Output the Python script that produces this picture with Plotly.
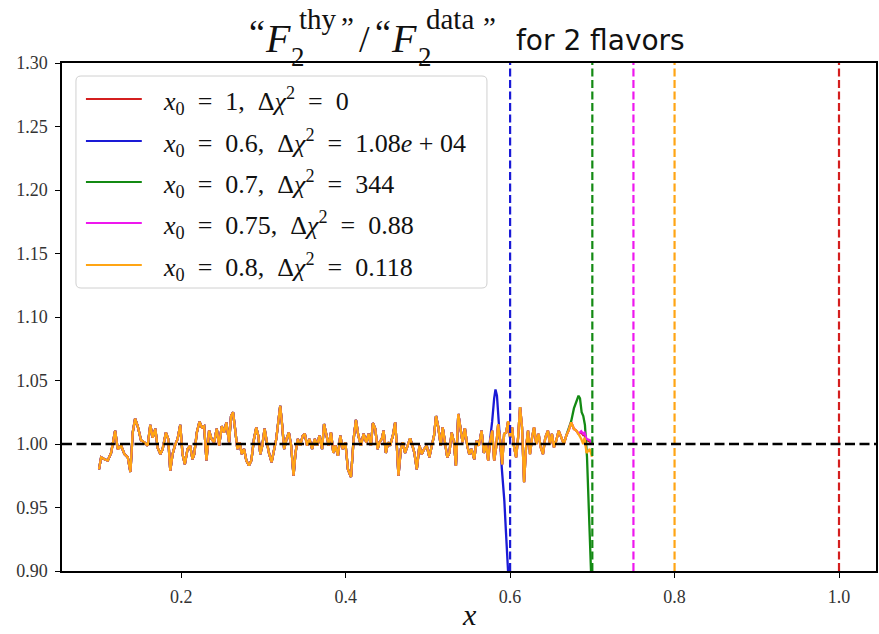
import plotly.graph_objects as go

# ---------------- data ----------------
X_BASE = [
    0.1000, 0.1026, 0.1067, 0.1107, 0.1147, 0.1196, 0.1228, 0.1269, 0.1309, 0.1350,
    0.1382, 0.1410, 0.1439, 0.1471, 0.1511, 0.1552, 0.1592, 0.1624, 0.1653, 0.1685,
    0.1713, 0.1746, 0.1774, 0.1814, 0.1842, 0.1867, 0.1895, 0.1923, 0.1956, 0.1988,
    0.2016, 0.2044, 0.2077, 0.2109, 0.2137, 0.2158, 0.2190, 0.2222, 0.2251, 0.2279,
    0.2307, 0.2339, 0.2368, 0.2400, 0.2432, 0.2461, 0.2493,
    0.2521, 0.2549, 0.2582, 0.2606, 0.2630, 0.2655, 0.2683, 0.2711, 0.2735, 0.2764,
    0.2792, 0.2824, 0.2853, 0.2885, 0.2913, 0.2937, 0.2962, 0.2986, 0.3014, 0.3042,
    0.3067, 0.3099, 0.3127, 0.3156, 0.3180, 0.3204, 0.3228, 0.3252, 0.3281, 0.3309,
    0.3337, 0.3366, 0.3390, 0.3418, 0.3446, 0.3479, 0.3503, 0.3531, 0.3560, 0.3592,
    0.3624, 0.3652, 0.3681, 0.3713, 0.3737, 0.3766, 0.3794, 0.3822, 0.3850, 0.3875,
    0.3907, 0.3935, 0.3964, 0.3996, 0.4028,
    0.4065, 0.4097, 0.4125, 0.4154, 0.4186, 0.4218, 0.4251, 0.4279, 0.4307, 0.4331,
    0.4360, 0.4388, 0.4412, 0.4440, 0.4461, 0.4489, 0.4517, 0.4541, 0.4574, 0.4602,
    0.4622, 0.4642, 0.4671, 0.4695, 0.4723, 0.4752, 0.4784, 0.4812, 0.4836, 0.4865,
    0.4897, 0.4925, 0.4954, 0.4986, 0.5018, 0.5047, 0.5075, 0.5099, 0.5127, 0.5156,
    0.5180, 0.5208, 0.5236, 0.5261, 0.5289, 0.5317, 0.5341, 0.5370, 0.5398, 0.5422,
    0.5450, 0.5479, 0.5503, 0.5531,
    0.5564, 0.5592, 0.5620, 0.5653, 0.5681, 0.5709, 0.5733, 0.5758, 0.5782, 0.5806,
    0.5830, 0.5855, 0.5879, 0.5903, 0.5927, 0.5952, 0.5976, 0.6000, 0.6024, 0.6049,
    0.6073, 0.6097, 0.6121, 0.6145, 0.6170, 0.6194, 0.6218, 0.6242, 0.6267, 0.6291,
    0.6319, 0.6347, 0.6372, 0.6400, 0.6428, 0.6460, 0.6485, 0.6509, 0.6533, 0.6561,
    0.6590, 0.6622, 0.6654, 0.6683, 0.6711, 0.6743, 0.6776, 0.6804, 0.6832, 0.6865,
    0.6889, 0.6905, 0.6929, 0.6970, 0.6995,
]
Y_BASE = [
    0.980, 0.9895, 0.988, 0.987, 0.993, 1.0105, 0.996, 0.9987, 0.992, 0.9895,
    0.978, 1.009, 1.020, 1.014, 1.003, 1.0013, 0.9987, 1.015, 1.005, 1.012,
    0.997, 0.992, 0.996, 1.009, 1.004, 0.979, 0.992, 0.9987, 1.004, 1.015,
    0.992, 0.984, 0.996, 0.9987, 0.988, 0.992, 1.009, 1.0176, 1.013, 1.014,
    0.987, 1.0105, 1.004, 1.0013, 1.012, 0.9987, 1.014,
    1.009, 1.017, 1.0013, 1.022, 1.025, 1.012, 0.996, 1.0013, 0.992, 0.996,
    0.987, 0.983, 0.987, 1.004, 1.013, 1.0066, 0.992, 0.9987, 1.012, 1.0013,
    0.993, 0.9856, 0.996, 1.004, 1.017, 1.030, 1.0144, 0.996, 1.004, 1.009,
    0.9987, 0.975, 0.993, 1.004, 0.9987, 1.0066, 1.008, 0.9987, 1.004, 0.996,
    1.004, 0.9987, 1.0066, 0.996, 1.0157, 1.0066, 0.9987, 1.009, 0.993, 0.9987,
    0.9908, 1.0066, 0.996, 1.0013, 0.980,
    0.974, 1.004, 1.019, 1.0066, 0.9987, 1.008, 1.0013, 1.008, 0.9987, 1.0165,
    1.012, 0.996, 1.0013, 1.004, 1.0105, 0.993, 1.0013, 0.9987, 1.0066, 1.017,
    0.9987, 0.975, 0.996, 1.0013, 0.993, 0.9987, 1.0045, 0.9987, 0.993, 0.980,
    0.9987, 0.992, 0.996, 0.9987, 0.9895, 0.9987, 1.0066, 1.022, 1.013, 0.9987,
    1.013, 1.0013, 0.9895, 0.993, 1.009, 1.0013, 0.983, 1.0236, 1.012, 1.0013,
    1.0123, 0.9987, 0.992, 0.996,
    0.988, 1.0026, 0.9987, 1.0105, 0.993, 1.000, 0.987, 1.0026, 1.0105, 0.987,
    0.9974, 1.0157, 1.0026, 0.984, 1.008, 1.009, 1.018, 1.005, 1.013, 0.9974,
    0.9895, 1.005, 1.029, 1.013, 0.970, 0.9974, 1.0105, 0.992, 1.005, 1.013,
    1.000, 1.008, 0.9974, 0.992, 1.005, 1.0105, 1.000, 1.008, 0.9974, 1.0026,
    1.0105, 1.005, 1.000, 1.0066, 1.0105, 1.017, 1.0118, 1.0105, 1.008, 1.004,
    1.000, 1.005, 0.993, 0.996, 0.990,
]

RED_TAIL_X = [0.6865, 0.6889, 0.6905, 0.6929, 0.6970, 0.6995]
RED_TAIL_Y = [1.009, 1.007, 1.008, 1.003, 1.002, 1.000]
BLUE_TAIL_X = [0.5733, 0.5758, 0.5782, 0.5806, 0.5822, 0.5840, 0.5860, 0.5880,
               0.5900, 0.5930, 0.5950, 0.5970, 0.6000]
BLUE_TAIL_Y = [0.990, 1.003, 1.018, 1.036, 1.043, 1.038, 1.022, 1.000,
               0.980, 0.955, 0.930, 0.905, 0.870]
GREEN_TAIL_X = [0.6711, 0.6743, 0.6776, 0.6804, 0.6832, 0.6850, 0.6870, 0.6890,
                0.6910, 0.6935, 0.6955, 0.6975, 0.7000]
GREEN_TAIL_Y = [1.012, 1.018, 1.028, 1.033, 1.038, 1.036, 1.025, 1.022,
                1.015, 0.990, 0.960, 0.930, 0.870]
MAGENTA_TAIL_X = [0.6865, 0.6889, 0.6905, 0.6929, 0.6970, 0.6995]
MAGENTA_TAIL_Y = [1.010, 1.008, 1.009, 1.004, 1.003, 1.001]

X0_VALUES = [1.0, 0.6, 0.7, 0.75, 0.8]
X0_LABELS = ["1", "0.6", "0.7", "0.75", "0.8"]
DCHI2_LABELS = ["0", "1.08<i>e</i> + 04", "344", "0.88", "0.118"]
COLORS = ["#d41f1f", "#1a1ad6", "#138a13", "#ee18ee", "#ffa514"]

X_TICKS = [0.2, 0.4, 0.6, 0.8, 1.0]
Y_TICKS = [0.90, 0.95, 1.00, 1.05, 1.10, 1.15, 1.20, 1.25, 1.30]
REF_LEVEL = 1.0

# ---------------- layout geometry ----------------
W, H = 879, 634
L, R, T, B = 62, 878, 63, 571
SERIF = "Liberation Serif"
ESP = "\u2002"  # en space, mimics TeX spacing around relations


def px(x):
    return (x - L) / (R - L)


def py(y):
    return (B - y) / (B - T)


def build(tail_x, tail_y):
    if not tail_x:
        return list(X_BASE), list(Y_BASE)
    cut = tail_x[0]
    xs = [x for x in X_BASE if x < cut - 1e-9]
    ys = [y for x, y in zip(X_BASE, Y_BASE) if x < cut - 1e-9]
    return xs + list(tail_x), ys + list(tail_y)


series = [
    build(RED_TAIL_X, RED_TAIL_Y),
    build(BLUE_TAIL_X, BLUE_TAIL_Y),
    build(GREEN_TAIL_X, GREEN_TAIL_Y),
    build(MAGENTA_TAIL_X, MAGENTA_TAIL_Y),
    build([], []),
]

fig = go.Figure()
for (xs, ys), col in zip(series, COLORS):
    fig.add_trace(go.Scatter(x=xs, y=ys, mode="lines",
                             line=dict(color=col, width=2.3), showlegend=False,
                             hoverinfo="skip"))

shapes = []
for x0, col in zip(X0_VALUES, COLORS):
    shapes.append(dict(type="line", xref="x", yref="paper", x0=x0, x1=x0, y0=0, y1=1,
                       line=dict(color=col, width=2.2, dash="8px,3.5px"), layer="above"))
shapes.append(dict(type="line", xref="paper", yref="y", x0=0, x1=1, y0=REF_LEVEL, y1=REF_LEVEL,
                   line=dict(color="black", width=2.5, dash="10px,4.5px"), layer="above"))

# legend box (rounded)
bx0, by0, bx1, by1, rr = 76, 76, 488, 288, 5
path = (f"M {px(bx0 + rr)} {py(by0)} L {px(bx1 - rr)} {py(by0)} "
        f"Q {px(bx1)} {py(by0)} {px(bx1)} {py(by0 + rr)} "
        f"L {px(bx1)} {py(by1 - rr)} Q {px(bx1)} {py(by1)} {px(bx1 - rr)} {py(by1)} "
        f"L {px(bx0 + rr)} {py(by1)} Q {px(bx0)} {py(by1)} {px(bx0)} {py(by1 - rr)} "
        f"L {px(bx0)} {py(by0 + rr)} Q {px(bx0)} {py(by0)} {px(bx0 + rr)} {py(by0)} Z")
shapes.append(dict(type="path", xref="paper", yref="paper", path=path,
                   line=dict(color="#d0d0d0", width=1), fillcolor="rgba(255,255,255,0.85)",
                   layer="above"))

annotations = []
ROW_Y = [99, 141, 182, 223, 265]
for yy, col, x0l, dl in zip(ROW_Y, COLORS, X0_LABELS, DCHI2_LABELS):
    shapes.append(dict(type="line", xref="paper", yref="paper", x0=px(86), x1=px(142),
                       y0=py(yy), y1=py(yy), line=dict(color=col, width=2.2), layer="above"))
    txt = (f"<i>x</i><sub>0</sub>{ESP}={ESP}{x0l},{ESP}Δ<i>χ</i><sup>2</sup>"
           f"{ESP}={ESP}{dl}")
    annotations.append(dict(text=txt, xref="paper", yref="paper", x=px(161), y=py(yy + 2),
                            xanchor="left", yanchor="middle", showarrow=False,
                            font=dict(family=SERIF, size=26, color="#111")))


def ann(text, x, y, size, family=SERIF, anchor="left"):
    annotations.append(dict(text=text, xref="paper", yref="paper", x=px(x), y=py(y),
                            xanchor=anchor, yanchor="middle", showarrow=False,
                            font=dict(family=family, size=size, color="#111")))


# title pieces (stacked sub/superscripts as in TeX)
ann("“", 247, 33, 36)
ann("<i>F</i>", 263, 38, 40)
ann("2", 290, 57, 27)
ann("thy", 298, 19, 29)
ann("”", 340, 27, 29)
ann("/", 358, 39, 38)
ann("“", 374, 33, 36)
ann("<i>F</i>", 390, 38, 40)
ann("2", 417, 57, 27)
ann("data", 425, 19, 29)
ann("”", 482, 27, 29)
ann("for 2 flavors", 515, 40, 28, family="DejaVu Sans")
# x-axis label
ann("<i>x</i>", 470, 614, 30, anchor="center")

axis_common = dict(ticks="outside", ticklen=5, tickwidth=1.3, tickcolor="black",
                   showline=True, linecolor="black", linewidth=1.5, mirror=True,
                   showgrid=False, zeroline=False, ticklabelstandoff=4,
                   tickfont=dict(family=SERIF, size=18, color="#333"))

fig.update_layout(
    width=W, height=H,
    margin=dict(l=L, r=W - R, t=T, b=H - B, pad=0),
    paper_bgcolor="white", plot_bgcolor="white",
    shapes=shapes, annotations=annotations,
    showlegend=False,
    xaxis=dict(range=[0.055, 1.045], tickvals=X_TICKS,
               ticktext=[f"{v:.1f}" for v in X_TICKS], **axis_common),
    yaxis=dict(range=[0.9, 1.3], tickvals=Y_TICKS,
               ticktext=[f"{v:.2f}" for v in Y_TICKS], **axis_common),
)

fig.write_html("out.html")
